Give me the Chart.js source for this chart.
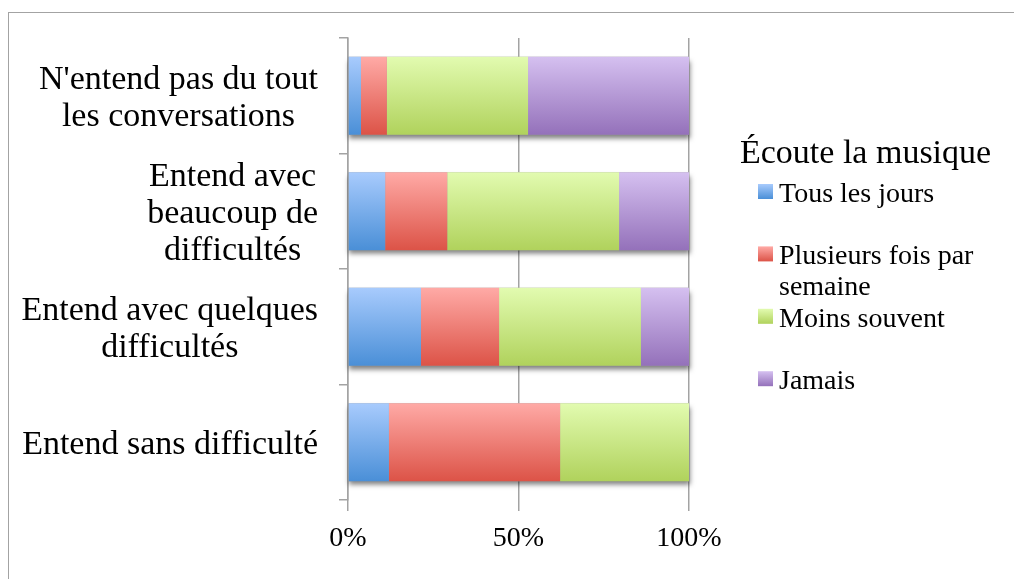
<!DOCTYPE html>
<html lang="fr">
<head>
  <meta charset="UTF-8">
  <title>Écoute la musique</title>
  <style>
    body {
      margin: 0;
      padding: 0;
      background: #fff;
    }
    .frame {
      position: absolute;
      left: 8px;
      top: 12px;
      width: 1010px;
      height: 570px;
      border-top: 1.5px solid #a3a3a3;
      border-left: 1.5px solid #a3a3a3;
    }
    .chart-container {
      position: absolute;
      left: 0;
      top: 0;
      width: 1014px;
      height: 579px;
    }
  </style>
</head>
<body>
  <div class="frame"></div>
  <div class="chart-container">
    <canvas id="barChart" width="1014" height="579"></canvas>
  </div>

  <script src="https://cdn.jsdelivr.net/npm/chart.js"></script>
  <script>
    // Catégories (axe Y), une ligne par élément
    const categories = [
      ["N'entend pas du tout", "les conversations"],
      ["Entend avec", "beaucoup de", "difficultés"],
      ["Entend avec quelques", "difficultés"],
      ["Entend sans difficulté"]
    ];

    // Séries (% par catégorie)
    const seriesNames = ['Tous les jours', 'Plusieurs fois par semaine', 'Moins souvent', 'Jamais'];
    const tousLesJours  = [3.8, 10.9, 21.4, 12.0];
    const plusieursFois = [7.6, 18.2, 22.9, 50.2];
    const moinsSouvent  = [41.4, 50.4, 41.6, 37.8];
    const jamais        = [47.2, 20.5, 14.1, 0];

    const xTicks = [0, 50, 100];
    const legendTitle = 'Écoute la musique';

    // dégradés haut -> bas
    const gradients = [
      ['#a8cbfd', '#4a8fd7'],
      ['#ffaaa6', '#dc5347'],
      ['#e2fbb0', '#b0d25c'],
      ['#d5c0f0', '#9471ba']
    ];

    const bigFont = '34px "Liberation Serif"';
    const smallFont = '28px "Liberation Serif"';
    const gridColor = '#a3a3a3';

    function vGradient(ctx, top, bottom, pair) {
      const g = ctx.createLinearGradient(0, top, 0, bottom);
      g.addColorStop(0, pair[0]);
      g.addColorStop(1, pair[1]);
      return g;
    }

    // dégradés + ombre sous chaque barre empilée
    const barStyle = {
      id: 'barStyle',
      beforeDatasetsDraw(chart) {
        const ctx = chart.ctx;
        const x0 = chart.scales.x.getPixelForValue(0);
        categories.forEach((c, i) => {
          let right = x0, top = null, bottom = null;
          chart.data.datasets.forEach((ds, d) => {
            const el = chart.getDatasetMeta(d).data[i];
            const p = el.getProps(['x', 'y', 'height']);
            const t = p.y - p.height / 2, b = p.y + p.height / 2;
            // options partagées entre barres : on en fait une copie par barre
            const opts = Object.create(el.options);
            opts.backgroundColor = vGradient(ctx, t, b, gradients[d]);
            el.options = opts;
            if (ds.data[i] > 0) right = Math.max(right, p.x);
            top = t; bottom = b;
          });
          ctx.save();
          ctx.shadowColor = 'rgba(0,0,0,0.5)';
          ctx.shadowBlur = 5;
          ctx.shadowOffsetX = 1;
          ctx.shadowOffsetY = 4;
          ctx.fillStyle = '#999';
          ctx.fillRect(x0, top, right - x0, bottom - top);
          ctx.restore();
        });
      }
    };

    // libellés des catégories, lignes centrées dans le bloc
    const categoryLabels = {
      id: 'categoryLabels',
      afterDraw(chart) {
        const ctx = chart.ctx;
        const yScale = chart.scales.y;
        const rightEdge = chart.chartArea.left - 30;
        const lineH = 37;
        ctx.save();
        ctx.font = bigFont;
        ctx.fillStyle = '#000';
        ctx.textAlign = 'center';
        ctx.textBaseline = 'middle';
        categories.forEach((lines, i) => {
          const y = yScale.getPixelForTick(i) + 3;
          const widest = Math.max(...lines.map(l => ctx.measureText(l).width));
          const cx = rightEdge - widest / 2;
          const y0 = y - (lines.length - 1) * lineH / 2;
          lines.forEach((l, k) => ctx.fillText(l, cx, y0 + k * lineH));
        });
        ctx.restore();
      }
    };

    function wrap(ctx, text, maxW) {
      const words = text.split(' ');
      const lines = [];
      let cur = '';
      words.forEach(w => {
        const test = cur ? cur + ' ' + w : w;
        if (ctx.measureText(test).width > maxW && cur) {
          lines.push(cur);
          cur = w;
        } else {
          cur = test;
        }
      });
      lines.push(cur);
      return lines;
    }

    // légende à droite
    const sideLegend = {
      id: 'sideLegend',
      afterDraw(chart) {
        const ctx = chart.ctx;
        ctx.save();
        ctx.fillStyle = '#000';
        ctx.textAlign = 'left';
        ctx.textBaseline = 'alphabetic';
        ctx.font = bigFont;
        ctx.fillText(legendTitle, 740, 163);
        ctx.font = smallFont;
        chart.data.datasets.forEach((ds, d) => {
          const base = 202 + d * 62.4;
          ctx.fillStyle = vGradient(ctx, base - 18, base - 3, gradients[d]);
          ctx.fillRect(758, base - 18, 15, 15);
          ctx.fillStyle = '#000';
          wrap(ctx, ds.label, 228).forEach((l, k) => ctx.fillText(l, 779, base + k * 31));
        });
        ctx.restore();
      }
    };

    const seriesValues = [tousLesJours, plusieursFois, moinsSouvent, jamais];

    const ctx = document.getElementById('barChart').getContext('2d');
    new Chart(ctx, {
      type: 'bar',
      data: {
        labels: categories,
        datasets: seriesNames.map((name, d) => ({
          label: name,
          data: seriesValues[d],
          backgroundColor: gradients[d][1],
          borderWidth: 0,
          barPercentage: 0.675,
          categoryPercentage: 1
        }))
      },
      options: {
        indexAxis: 'y',
        responsive: false,
        animation: false,
        layout: {
          padding: { top: 38, right: 325, left: 0, bottom: 0 }
        },
        scales: {
          x: {
            stacked: true,
            min: 0,
            max: 100,
            afterBuildTicks: s => { s.ticks = xTicks.map(v => ({ value: v })); },
            afterFit: s => { s.height = 79; },
            grid: { color: gridColor, lineWidth: 1.5, tickLength: 11 },
            border: { display: false },
            ticks: {
              color: '#000',
              padding: 11,
              font: { family: 'Liberation Serif', size: 28 },
              callback: v => v + '%'
            }
          },
          y: {
            stacked: true,
            afterFit: s => { s.width = 348; },
            grid: { drawOnChartArea: false, color: gridColor, lineWidth: 1.5, tickLength: 9 },
            border: { display: true, color: gridColor, width: 1.5 },
            ticks: { display: false }
          }
        },
        plugins: {
          legend: { display: false },
          tooltip: { enabled: true }
        }
      },
      plugins: [barStyle, categoryLabels, sideLegend]
    });
  </script>
</body>
</html>
